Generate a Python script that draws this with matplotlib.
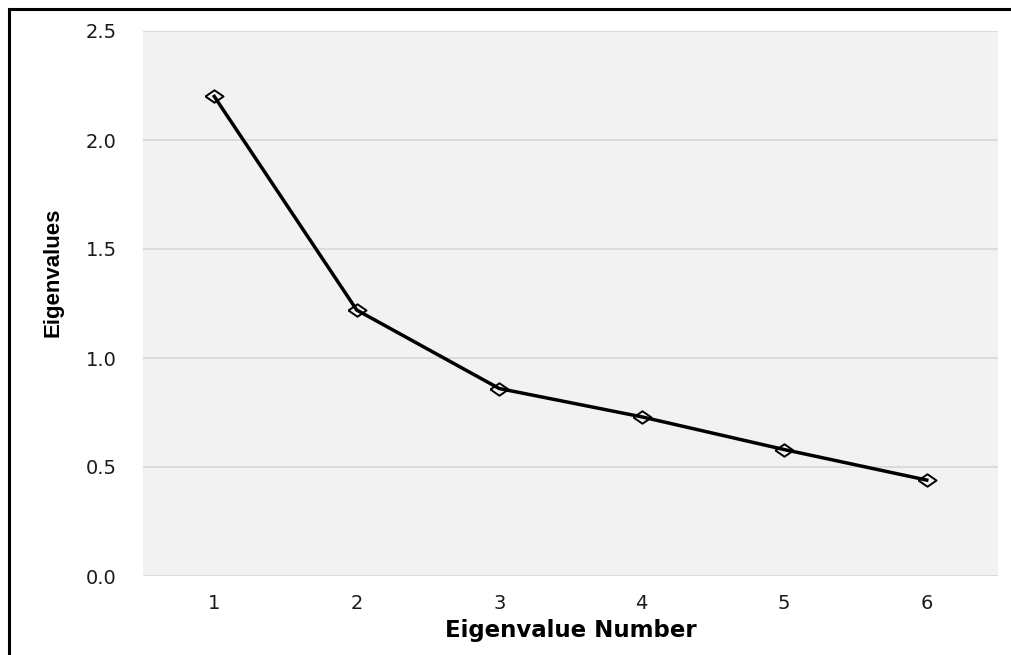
import matplotlib
matplotlib.use("Agg")
from matplotlib import pyplot as plt
from matplotlib.lines import Line2D

# scree plot data
numbers = [1, 2, 3, 4, 5, 6]
eigenvalues = [2.20, 1.22, 0.86, 0.73, 0.58, 0.44]
y_ticks = [0.0, 0.5, 1.0, 1.5, 2.0, 2.5]

plt.rcParams['font.family'] = ['DejaVu Sans']

fig = plt.figure(figsize=(10.12, 6.55), dpi=100)
W, H = 1012, 655
ax = fig.add_axes([143 / W, 1 - 576 / H, (998 - 143) / W, (576 - 31) / H])
ax.set_facecolor('#f2f2f2')

# wide diamond marker (the original image is stretched horizontally)
diamond = [(-1.45, 0), (0, 1), (1.45, 0), (0, -1), (-1.45, 0)]
ax.plot(numbers, eigenvalues, color='black', linewidth=2.5,
        marker=diamond, markersize=13, markerfacecolor='none',
        markeredgecolor='black', markeredgewidth=1.4, zorder=3)

ax.set_xlim(0.5, 6.5)
ax.set_ylim(0, 2.5)
ax.set_xticks(numbers)
ax.set_yticks(y_ticks)
ax.set_yticklabels(["%.1f" % v for v in y_ticks])
ax.grid(axis='y', color='#d9d9d9', linewidth=1.3)
ax.set_axisbelow(True)
for s in ax.spines.values():
    s.set_visible(False)
ax.tick_params(axis='both', length=0, labelsize=14, colors='#1a1a1a')
ax.tick_params(axis='y', pad=19)
ax.tick_params(axis='x', pad=13)

ax.set_xlabel("Eigenvalue Number", fontsize=16.5, fontweight='bold')
ax.xaxis.set_label_coords(0.5, -0.078)
ax.set_ylabel("Eigenvalues", fontsize=16, fontweight='bold',
              family=['Liberation Sans', 'DejaVu Sans'])
ax.yaxis.set_label_coords(-0.0924, 0.558)

# outer frame (only top and left visible in the crop)
fig.add_artist(Line2D([8.5 / W, 1], [1 - 8.5 / H, 1 - 8.5 / H],
                      transform=fig.transFigure, color='black', linewidth=2.2))
fig.add_artist(Line2D([8.5 / W, 8.5 / W], [0, 1 - 8.5 / H],
                      transform=fig.transFigure, color='black', linewidth=2.2))

fig.savefig("out.png", dpi=100)
